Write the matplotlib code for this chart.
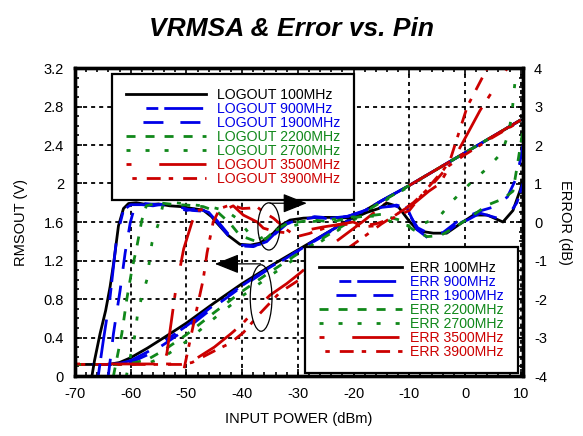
import numpy as np
import matplotlib
matplotlib.use("Agg")
import matplotlib.pyplot as plt
from matplotlib.patches import Ellipse
from matplotlib.ticker import MultipleLocator, FormatStrFormatter

plt.rcParams['font.family'] = ['Liberation Sans', 'DejaVu Sans']
plt.rcParams['lines.scale_dashes'] = False
plt.rcParams['axes.unicode_minus'] = False

# ---- RMS output (V) vs input power (dBm) ----
lx = [-70, -66, -64, -62, -60, -57, -54, -50, -45, -40, -35, -30, -25, -20, -15, -10, -5, 0, 5, 10]
logout_100 = [0.12, 0.12, 0.12, 0.14, 0.19, 0.29, 0.40, 0.55, 0.76, 0.96, 1.14, 1.31, 1.48, 1.65, 1.82, 1.98, 2.15, 2.32, 2.49, 2.66]
logout_900 = [0.12, 0.12, 0.12, 0.13, 0.16, 0.25, 0.36, 0.52, 0.74, 0.94, 1.13, 1.30, 1.48, 1.65, 1.82, 1.98, 2.15, 2.32, 2.49, 2.66]
logout_1900 = [0.12, 0.12, 0.12, 0.12, 0.14, 0.22, 0.33, 0.49, 0.72, 0.93, 1.12, 1.30, 1.47, 1.65, 1.82, 1.98, 2.15, 2.32, 2.49, 2.66]
logout_2200 = [0.12, 0.12, 0.12, 0.12, 0.13, 0.17, 0.27, 0.43, 0.66, 0.88, 1.08, 1.27, 1.45, 1.63, 1.81, 1.98, 2.15, 2.32, 2.49, 2.66]
logout_2700 = [0.12, 0.12, 0.12, 0.12, 0.12, 0.13, 0.20, 0.36, 0.60, 0.83, 1.04, 1.24, 1.43, 1.62, 1.80, 1.97, 2.15, 2.32, 2.49, 2.66]

lx_3500 = [-70, -52, -50, -48, -45, -42, -40, -37.3, -35, -32, -29.6, -27, -24, -21, -18, -15, -12, -10, -5, 0, 5, 10]
logout_3500 = [0.125, 0.125, 0.14, 0.19, 0.30, 0.44, 0.54, 0.71, 0.84, 0.96, 1.07, 1.20, 1.36, 1.49, 1.62, 1.76, 1.89, 1.98, 2.15, 2.32, 2.49, 2.66]
lx_3900 = [-70, -51, -49, -47, -45, -42.2, -39.8, -36.8, -33.2, -30, -26.6, -22.4, -18.3, -15, -12, -9.3, -6, -3, 0, 5, 10]
logout_3900 = [0.12, 0.12, 0.14, 0.20, 0.26, 0.34, 0.45, 0.65, 0.87, 0.99, 1.12, 1.27, 1.44, 1.58, 1.69, 1.80, 1.98, 2.18, 2.30, 2.48, 2.65]

# ---- log-conformance error (dB) ----
ex_100 = [-67.3, -66.5, -65.5, -64.5, -63.7, -63, -62.2, -61.3, -60.4, -59, -57, -55, -53, -51, -49.4, -47, -45.5, -44.5,
          -42.5, -40.4, -38.5, -36.8, -34.4, -33.2, -31.4, -29, -26, -23, -20, -17.6, -15.5, -14, -12, -10, -8.6, -7.5,
          -5.7, -3.3, -1.4, 1.5, 4, 6.8, 8.6, 9.9, 10.4]
err_100 = [-4.3, -3.6, -2.9, -2.3, -1.68, -1.0, -0.1, 0.35, 0.48, 0.5, 0.45, 0.47, 0.42, 0.4, 0.36, 0.31, 0.14, -0.03,
           -0.35, -0.58, -0.6, -0.55, -0.29, -0.1, 0.05, 0.1, 0.12, 0.12, 0.1, 0.25, 0.35, 0.49, 0.4, 0.02, -0.2, -0.25,
           -0.29, -0.29, -0.1, 0.18, 0.18, 0.0, 0.3, 0.83, 1.1]
ex_900 = [-66.5, -65.8, -64.9, -63.7, -62.5, -61.3, -60, -58, -56, -54, -52, -50, -48, -46, -44.5, -42.5, -40.4, -38,
          -35.6, -33.8, -32, -29.6, -27, -24, -21, -18, -16.4, -14, -12.3, -10.4, -8.6, -6.6, -3.9, -1.4, 0.4, 2.7, 5.8,
          7.6, 9.3, 10.4]
err_900 = [-4.5, -3.97, -3.06, -1.94, -0.38, 0.31, 0.45, 0.45, 0.42, 0.47, 0.4, 0.3, 0.35, 0.25, 0.0, -0.35, -0.62, -0.64,
           -0.51, -0.25, -0.03, 0.05, 0.14, 0.1, 0.15, 0.3, 0.36, 0.4, 0.44, 0.36, -0.2, -0.42, -0.34, -0.05, 0.05, 0.23, 0.1,
           0.14, 0.5, 1.0]
ex_1900 = [-64.7, -64.0, -63.1, -61.9, -61.0, -60.1, -59.3, -57.5, -55, -53, -51, -49, -47, -45.5, -44, -42, -40, -38,
           -36, -34, -32, -30, -27, -24, -21, -18, -15, -12.5, -10.5, -8.5, -6.5, -4, -1.5, 1, 3, 5.1, 7.6, 9.3, 9.9, 10.4]
err_1900 = [-4.5, -3.97, -2.9, -1.77, -0.8, -0.03, 0.4, 0.48, 0.45, 0.42, 0.38, 0.3, 0.28, 0.2, -0.05, -0.4, -0.6, -0.62,
            -0.55, -0.3, -0.05, 0.05, 0.12, 0.08, 0.15, 0.28, 0.38, 0.42, 0.3, -0.15, -0.3, -0.28, 0.0, 0.18, 0.3, 0.39,
            0.65, 1.17, 1.6, 2.0]
ex_2200 = [-63.6, -63.1, -61.6, -60.7, -59.8, -58.9, -58.0, -57.2, -55, -52, -50, -47, -44.5, -42.2, -40.4, -37.4, -35.6,
           -34, -32, -30, -27, -24, -21, -18, -15, -13, -11.7, -9.3, -6.8, -4.4, -2.1, 1.5, 4, 6.8, 8.6, 9.3, 10.4]
err_2200 = [-4.5, -4.0, -2.9, -2.0, -1.25, -0.64, 0.05, 0.42, 0.5, 0.45, 0.44, 0.4, 0.27, -0.03, -0.35, -0.51, -0.42,
            -0.2, -0.05, 0.0, 0.05, 0.0, 0.1, 0.15, 0.2, 0.1, 0.05, -0.2, -0.38, -0.35, -0.16, 0.18, 0.44, 0.6, 0.8, 1.4, 2.4]
ex_2700 = [-61.5, -60.5, -59.2, -58.7, -57.1, -56.2, -55.0, -54.2, -52, -49, -46, -43, -41, -39, -37.3, -35.6, -33.8, -31,
           -28, -25, -22, -19, -16, -13, -10, -8.1, -6, -4.5, -2.1, 0.9, 4, 6.6, 7.8, 8.4, 9.0, 9.5]
err_2700 = [-4.5, -3.8, -2.9, -2.3, -1.5, -0.55, -0.03, 0.45, 0.5, 0.45, 0.4, 0.3, 0.1, -0.25, -0.47, -0.34, -0.2, -0.1,
            0.0, 0.05, 0.1, 0.15, 0.15, 0.0, -0.1, -0.08, 0.05, 0.16, 0.57, 1.0, 1.4, 1.8, 2.3, 2.8, 3.7, 4.4]
ex_3500 = [-55, -54.2, -53.5, -52, -50.5, -49, -48, -46, -43.4, -41.6, -39.8, -37.3, -36.2, -34, -31.4, -28, -25.5, -22,
           -20.1, -18, -16, -13.4, -11.1, -9, -6.5, -4.5, -1.4, 2.7, 7.6, 8.3]
err_3500 = [-4.3, -3.8, -3.4, -1.84, -0.7, 0.0, 0.3, 0.35, 0.3, 0.42, 0.18, 0.0, -0.16, -0.25, -0.29, -0.2, -0.13, -0.05,
            0.0, -0.12, -0.1, 0.1, 0.31, 0.5, 0.8, 1.0, 1.8, 2.9, 4.0, 4.2]
ex_3900 = [-51.5, -50.6, -48.8, -47, -46.3, -45.2, -44, -42, -40, -38.6, -37.3, -36.2, -34.4, -32, -30.2, -28, -25, -22,
           -19, -16, -13, -10, -7.5, -3.9, -2.7, 0.4, 4.0, 4.5]
err_3900 = [-4.3, -3.93, -2.7, -1.5, -0.8, 0.0, 0.35, 0.45, 0.35, 0.36, 0.39, 0.26, 0.1, -0.2, -0.38, -0.3, -0.15, -0.05,
            -0.1, -0.05, 0.1, 0.3, 0.75, 1.35, 1.6, 3.0, 4.0, 4.3]

freqs = ['100MHz', '900MHz', '1900MHz', '2200MHz', '2700MHz', '3500MHz', '3900MHz']

BLACK, BLUE, GREEN, RED = 'black', '#0000e8', '#10881a', '#cc0000'
colors = [BLACK, BLUE, BLUE, GREEN, GREEN, RED, RED]
# dash patterns in points
styles = ['-',
          (41, (8.6, 4.3, 28, 14.4)),
          (14.4, (14.4, 12.2)),
          (0, (6.5, 7.2)),
          (0, (2.9, 10.8)),
          (0, (3.6, 20, 34, 8)),
          (22, (3.2, 7.2, 10, 5.8))]

logout = [(lx, logout_100), (lx, logout_900), (lx, logout_1900), (lx, logout_2200),
          (lx, logout_2700), (lx_3500, logout_3500), (lx_3900, logout_3900)]
errs = [(ex_100, err_100), (ex_900, err_900), (ex_1900, err_1900), (ex_2200, err_2200),
        (ex_2700, err_2700), (ex_3500, err_3500), (ex_3900, err_3900)]

fig = plt.figure(figsize=(5.83, 4.36), dpi=100)
ax = fig.add_axes([75 / 583, 1 - 376 / 436, 448 / 583, 308 / 436])
ax2 = ax.twinx()

lw = 2.0
log_lines = []
for (x, y), c, ls, f in zip(logout, colors, styles, freqs):
    ln, = ax.plot(x, y, color=c, linestyle=ls, lw=lw, label='LOGOUT ' + f)
    log_lines.append(ln)
err_lines = []
for (x, y), c, ls, f in zip(errs, colors, styles, freqs):
    ln, = ax2.plot(x, y, color=c, linestyle=ls, lw=lw, label='ERR ' + f)
    err_lines.append(ln)

ax.set_xlim(-70, 10.4)
ax.set_ylim(0, 3.2)
ax2.set_ylim(-4, 4)

ax.xaxis.set_major_locator(MultipleLocator(10))
ax.xaxis.set_minor_locator(MultipleLocator(2))
ax.yaxis.set_major_locator(MultipleLocator(0.4))
ax.yaxis.set_minor_locator(MultipleLocator(0.1))
ax.yaxis.set_major_formatter(FormatStrFormatter('%g'))
ax2.yaxis.set_major_locator(MultipleLocator(1))
ax2.yaxis.set_minor_locator(MultipleLocator(0.25))

ax.grid(True, which='major', color='black', linestyle=(0, (2.9, 2.9)), lw=1.3)
ax.set_axisbelow(True)

for a in (ax, ax2):
    for s in a.spines.values():
        s.set_linewidth(2.4)
ax.tick_params(which='both', direction='in', top=True, right=False, labelsize=10.5, width=1.2, pad=8)
ax.tick_params(which='major', length=5)
ax.tick_params(which='minor', length=3)
ax2.tick_params(which='both', direction='in', labelsize=10.5, width=1.2, pad=8)
ax2.tick_params(which='major', length=5)
ax2.tick_params(which='minor', length=3)

ax.set_xlabel('INPUT POWER (dBm)', fontsize=10.5, labelpad=8)
ax.set_ylabel('RMSOUT (V)', fontsize=10.5, labelpad=11)
ax2.set_ylabel('ERROR (dB)', fontsize=10.5, rotation=270, labelpad=18)
fig.suptitle('VRMSA & Error vs. Pin', fontsize=19, fontweight='bold', fontstyle='italic', x=0.5, y=0.962)

# ellipses marking each family of curves, with arrows toward their axis
ax2.add_patch(Ellipse((-35.2, 1.554), 3.95, 0.49, transform=ax.transData, fill=False, lw=0.9, ec='black', zorder=5))
ax2.add_patch(Ellipse((-36.6, 0.81), 3.9, 0.69, transform=ax.transData, fill=False, lw=0.9, ec='black', zorder=5))
arrow_kw = dict(arrowstyle='-|>,head_length=0.75,head_width=0.3', mutation_scale=20, color='black', lw=0.9,
                shrinkA=0, shrinkB=0)
ax2.annotate('', xy=(-28.4, 1.795), xytext=(-35.0, 1.795), xycoords=ax.transData, textcoords=ax.transData,
             arrowprops=arrow_kw, annotation_clip=False).set_zorder(7)
ax2.annotate('', xy=(-44.9, 1.165), xytext=(-36.7, 1.165), xycoords=ax.transData, textcoords=ax.transData,
             arrowprops=arrow_kw, annotation_clip=False).set_zorder(7)

leg_kw = dict(fontsize=10.2, frameon=True, fancybox=False, framealpha=1, edgecolor='black', borderpad=1.0,
              labelspacing=0.0, handletextpad=0.75, borderaxespad=0, labelcolor='linecolor')
leg1 = ax2.legend(handles=log_lines, loc='upper left', bbox_to_anchor=(0.0826, 0.9805), handlelength=5.65, **leg_kw)
leg1.get_frame().set_linewidth(1.6)
ax2.add_artist(leg1)
leg_kw['handletextpad'] = 0.54
leg2 = ax2.legend(handles=err_lines, loc='upper left', bbox_to_anchor=(0.5134, 0.4188), handlelength=5.87, **leg_kw)
leg2.get_frame().set_linewidth(1.6)

fig.savefig('out.png', dpi=100)
